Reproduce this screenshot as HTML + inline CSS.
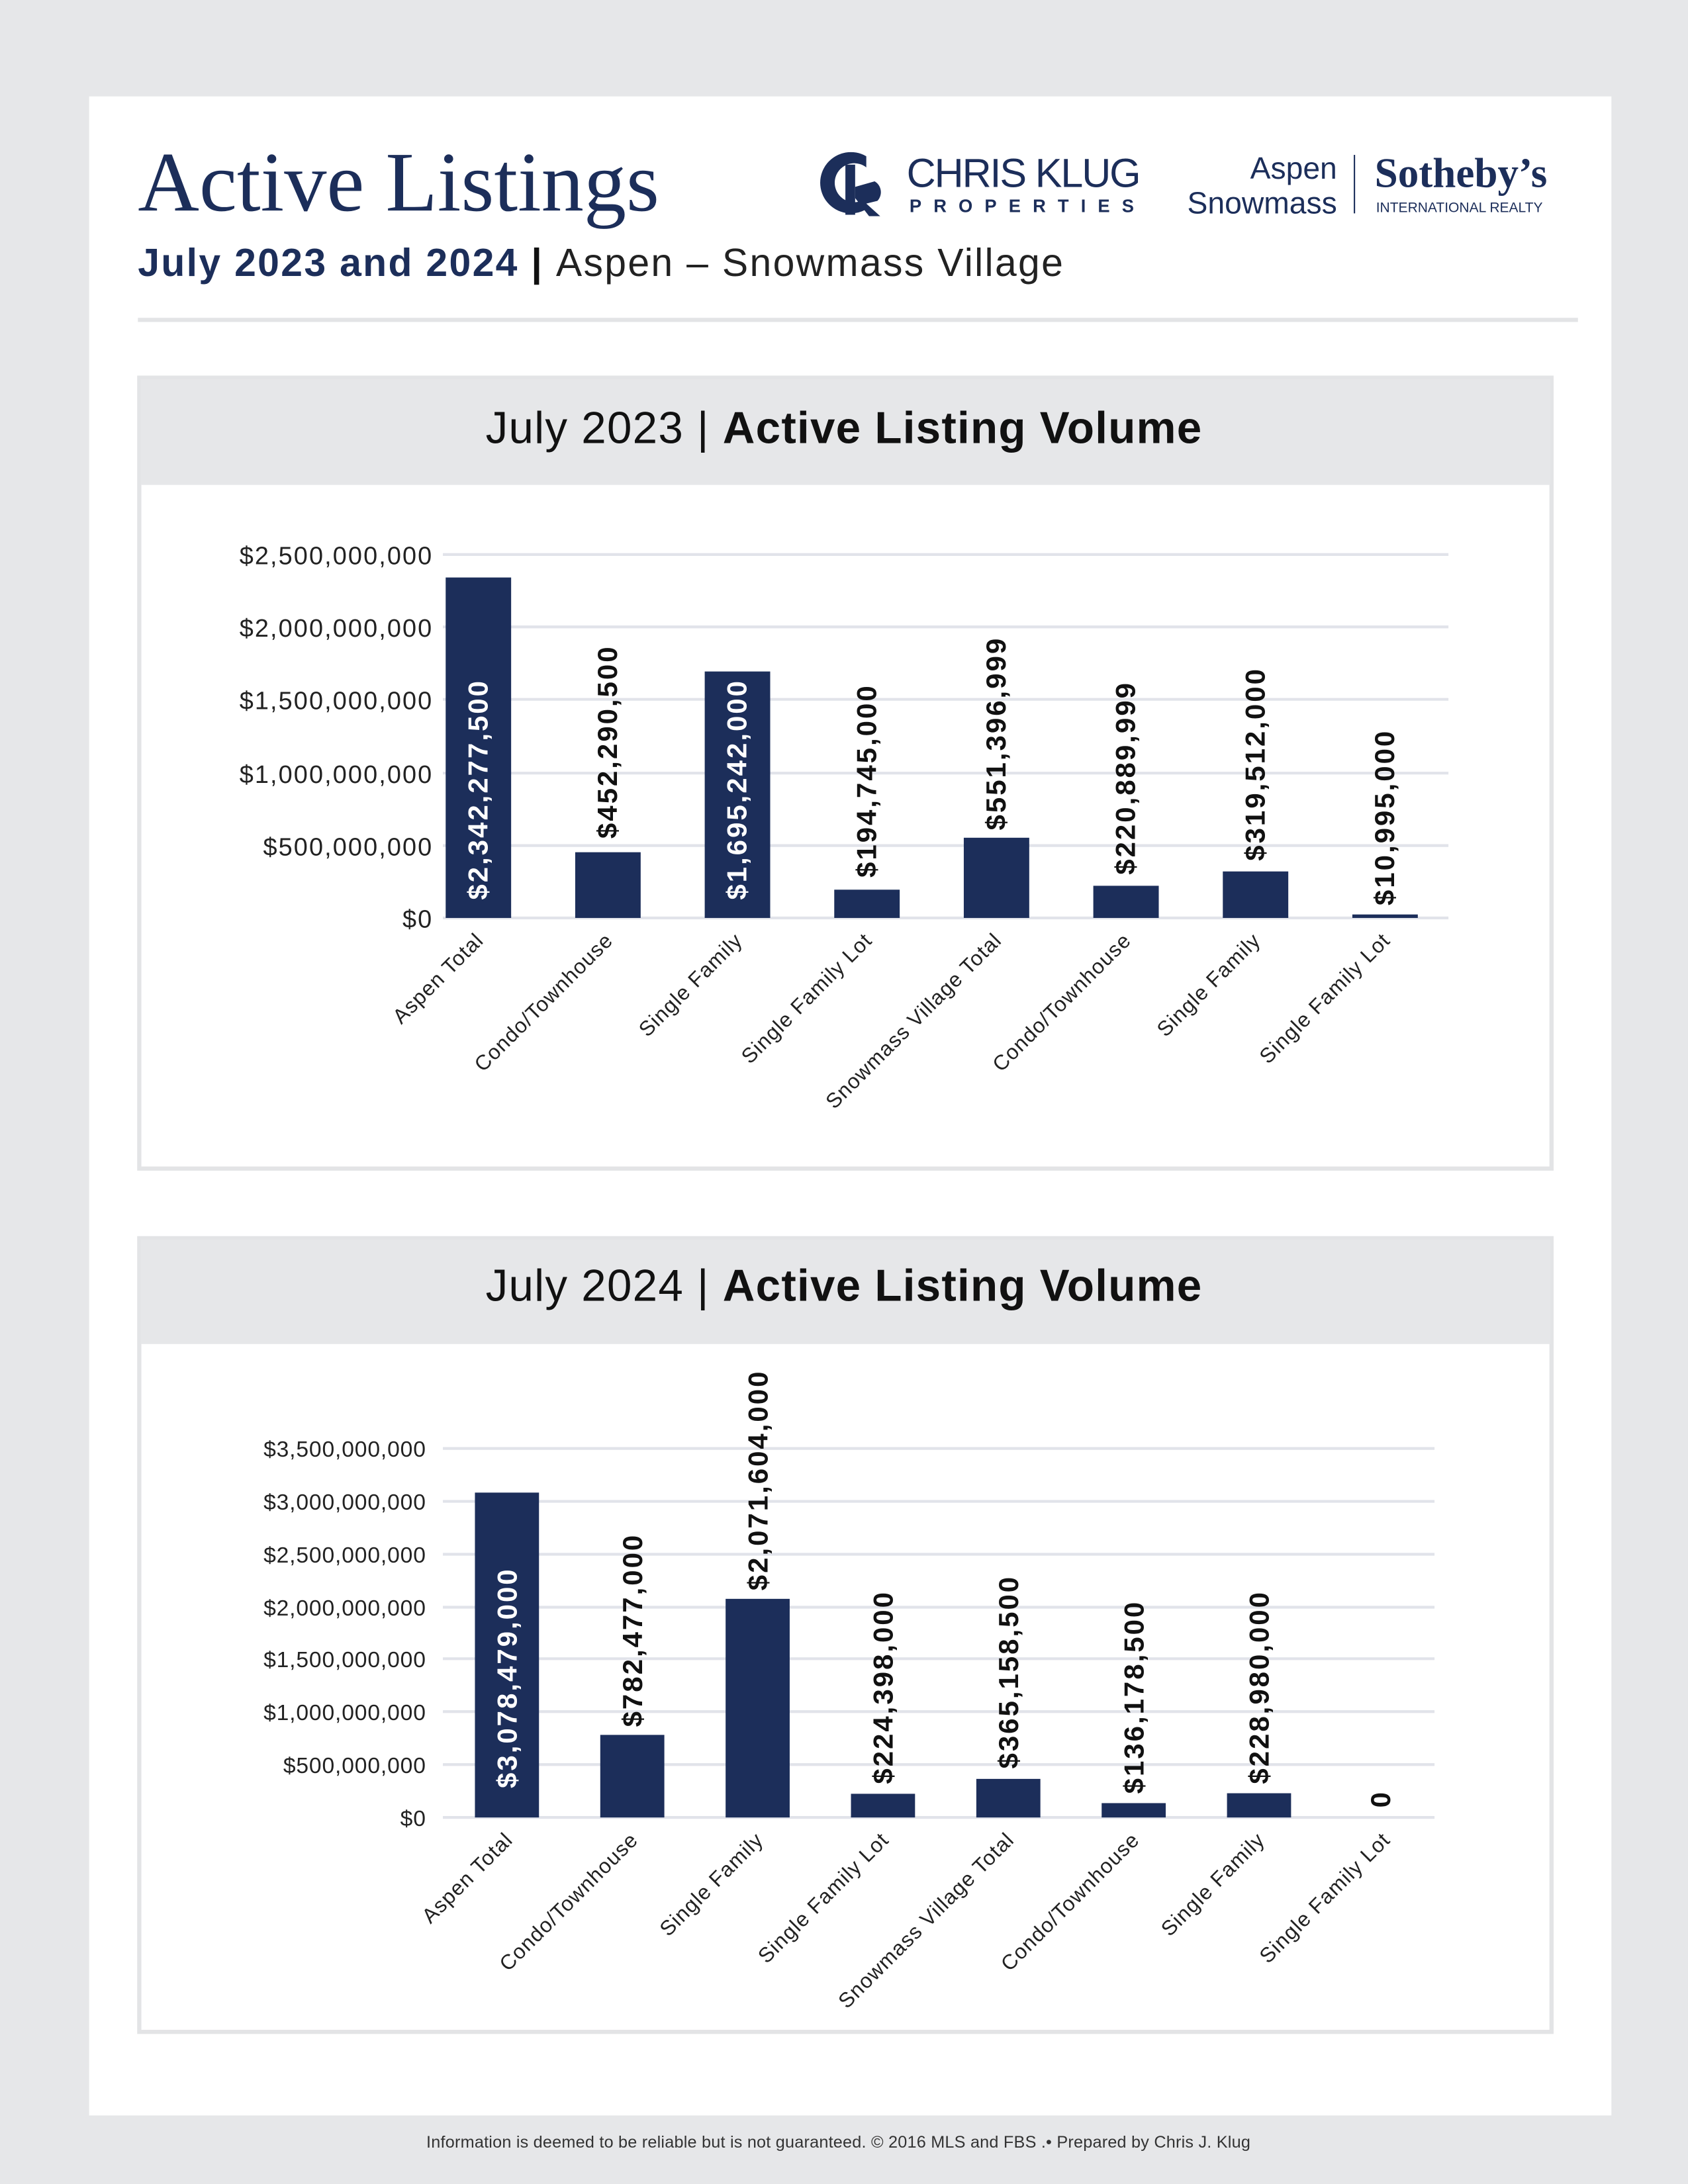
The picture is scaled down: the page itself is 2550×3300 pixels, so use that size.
<!DOCTYPE html>
<html><head><meta charset="utf-8">
<style>
html,body{margin:0;padding:0;background:#e6e7e9;}
svg{display:block;}
</style></head>
<body>
<svg width="2550" height="3300" viewBox="0 0 1212 1568" xmlns="http://www.w3.org/2000/svg" font-family="Liberation Sans, sans-serif">
<rect x="0" y="0" width="1212" height="1568" fill="#e6e7e9"/>
<rect x="64" y="69" width="1093" height="1450" fill="#ffffff"/>

<!-- Header -->
<text x="99" y="151" font-family="Liberation Serif, serif" font-size="61" fill="#1c2e5a">Active Listings</text>
<text x="99" y="198" font-size="28" letter-spacing="1.1" fill="#1c2e5a"><tspan font-weight="bold">July 2023 and 2024</tspan><tspan font-weight="bold" fill="#111"> | </tspan><tspan fill="#222">Aspen – Snowmass Village</tspan></text>
<rect x="99" y="228" width="1034" height="3" fill="#e3e4e6"/>

<!-- Chris Klug logo -->
<g fill="#1c2e5a">
<path d="M622 112 A22 22 0 1 0 622 150 L622 142 A14 14 0 1 1 622 120 Z"/>
<rect x="607" y="118" width="7" height="36"/>
<path d="M614 134 L628 130 A9 9 0 0 1 630 144 L622 146 L632 155 L624 155 L614 142 Z"/>
</g>
<text x="651" y="134" font-size="29" fill="#1c2e5a" letter-spacing="-1">CHRIS KLUG</text>
<text x="653" y="152" font-size="13" font-weight="bold" fill="#1c2e5a" letter-spacing="8.6">PROPERTIES</text>
<!-- Sotheby's -->
<text x="960" y="128" font-size="22" fill="#1c2e5a" text-anchor="end">Aspen</text>
<text x="960" y="153" font-size="22" fill="#1c2e5a" text-anchor="end">Snowmass</text>
<rect x="972" y="111" width="1" height="42" fill="#1c2e5a"/>
<text x="987" y="134" font-family="Liberation Serif, serif" font-weight="bold" font-size="30" fill="#1c2e5a">Sotheby’s</text>
<text x="988" y="152" font-size="10" fill="#1c2e5a">INTERNATIONAL REALTY</text>

<!-- Chart 1 panel -->
<rect x="100" y="271" width="1014" height="568" fill="#fff" stroke="#e3e4e6" stroke-width="3"/>
<rect x="101" y="272" width="1012" height="76" fill="#e6e7e9"/>
<text x="606" y="318" font-size="32" letter-spacing="0.6" text-anchor="middle" fill="#111">July 2023 | <tspan font-weight="bold">Active Listing Volume</tspan></text>
<g stroke="#e1e3ea" stroke-width="2">
<line x1="318" x2="1040" y1="398" y2="398"/><line x1="318" x2="1040" y1="450" y2="450"/>
<line x1="318" x2="1040" y1="502" y2="502"/><line x1="318" x2="1040" y1="555" y2="555"/>
<line x1="318" x2="1040" y1="607" y2="607"/><line x1="318" x2="1040" y1="659" y2="659"/>
</g>
<g font-size="18" letter-spacing="1" fill="#222" text-anchor="end">
<text x="311" y="405">$2,500,000,000</text><text x="311" y="457">$2,000,000,000</text>
<text x="311" y="509">$1,500,000,000</text><text x="311" y="562">$1,000,000,000</text>
<text x="311" y="614">$500,000,000</text><text x="311" y="666">$0</text>
</g>
<g fill="#1c2e5a">
<rect x="320" y="414.5" width="47" height="244.5"/>
<rect x="413" y="611.8" width="47" height="47.2"/>
<rect x="506" y="482" width="47" height="177"/>
<rect x="599" y="638.7" width="47" height="20.3"/>
<rect x="692" y="601.4" width="47" height="57.6"/>
<rect x="785" y="635.9" width="47" height="23.1"/>
<rect x="878" y="625.6" width="47" height="33.4"/>
<rect x="971" y="656.5" width="47" height="2.5"/>
</g>
<g font-size="20" font-weight="bold" letter-spacing="1.4">
<text transform="translate(350,646) rotate(-90)" fill="#fff">$2,342,277,500</text>
<text transform="translate(443,602) rotate(-90)" fill="#111">$452,290,500</text>
<text transform="translate(536,646) rotate(-90)" fill="#fff">$1,695,242,000</text>
<text transform="translate(629,630) rotate(-90)" fill="#111">$194,745,000</text>
<text transform="translate(722,596) rotate(-90)" fill="#111">$551,396,999</text>
<text transform="translate(815,628) rotate(-90)" fill="#111">$220,889,999</text>
<text transform="translate(908,618) rotate(-90)" fill="#111">$319,512,000</text>
<text transform="translate(1001,650) rotate(-90)" fill="#111">$10,995,000</text>
</g>
<g font-size="15" letter-spacing="0.6" fill="#222" text-anchor="end">
<text transform="translate(348,676) rotate(-45)">Aspen Total</text>
<text transform="translate(441,676) rotate(-45)">Condo/Townhouse</text>
<text transform="translate(534,676) rotate(-45)">Single Family</text>
<text transform="translate(627,676) rotate(-45)">Single Family Lot</text>
<text transform="translate(720,676) rotate(-45)">Snowmass Village Total</text>
<text transform="translate(813,676) rotate(-45)">Condo/Townhouse</text>
<text transform="translate(906,676) rotate(-45)">Single Family</text>
<text transform="translate(999,676) rotate(-45)">Single Family Lot</text>
</g>

<!-- Chart 2 panel -->
<rect x="100" y="889" width="1014" height="570" fill="#fff" stroke="#e3e4e6" stroke-width="3"/>
<rect x="101" y="890" width="1012" height="75" fill="#e6e7e9"/>
<text x="606" y="934" font-size="32" letter-spacing="0.6" text-anchor="middle" fill="#111">July 2024 | <tspan font-weight="bold">Active Listing Volume</tspan></text>
<g stroke="#e1e3ea" stroke-width="2">
<line x1="318" x2="1030" y1="1040" y2="1040"/><line x1="318" x2="1030" y1="1078" y2="1078"/>
<line x1="318" x2="1030" y1="1116" y2="1116"/><line x1="318" x2="1030" y1="1154" y2="1154"/>
<line x1="318" x2="1030" y1="1191" y2="1191"/><line x1="318" x2="1030" y1="1229" y2="1229"/>
<line x1="318" x2="1030" y1="1267" y2="1267"/><line x1="318" x2="1030" y1="1305" y2="1305"/>
</g>
<g font-size="16" letter-spacing="0.4" fill="#222" text-anchor="end">
<text x="306" y="1046">$3,500,000,000</text><text x="306" y="1084">$3,000,000,000</text>
<text x="306" y="1122">$2,500,000,000</text><text x="306" y="1160">$2,000,000,000</text>
<text x="306" y="1197">$1,500,000,000</text><text x="306" y="1235">$1,000,000,000</text>
<text x="306" y="1273">$500,000,000</text><text x="306" y="1311">$0</text>
</g>
<g fill="#1c2e5a">
<rect x="341" y="1071.7" width="46" height="233.3"/>
<rect x="431" y="1245.7" width="46" height="59.3"/>
<rect x="521" y="1148" width="46" height="157"/>
<rect x="611" y="1288" width="46" height="17"/>
<rect x="701" y="1277.3" width="46" height="27.7"/>
<rect x="791" y="1294.7" width="46" height="10.3"/>
<rect x="881" y="1287.6" width="46" height="17.4"/>
</g>
<g font-size="20" font-weight="bold" letter-spacing="1.4">
<text transform="translate(371,1284) rotate(-90)" fill="#fff">$3,078,479,000</text>
<text transform="translate(461,1240) rotate(-90)" fill="#111">$782,477,000</text>
<text transform="translate(551,1142) rotate(-90)" fill="#111">$2,071,604,000</text>
<text transform="translate(641,1281) rotate(-90)" fill="#111">$224,398,000</text>
<text transform="translate(731,1270) rotate(-90)" fill="#111">$365,158,500</text>
<text transform="translate(821,1288) rotate(-90)" fill="#111">$136,178,500</text>
<text transform="translate(911,1281) rotate(-90)" fill="#111">$228,980,000</text>
<text transform="translate(998,1298) rotate(-90)" fill="#111">0</text>
</g>
<g font-size="15" letter-spacing="0.6" fill="#222" text-anchor="end">
<text transform="translate(369,1322) rotate(-45)">Aspen Total</text>
<text transform="translate(459,1322) rotate(-45)">Condo/Townhouse</text>
<text transform="translate(549,1322) rotate(-45)">Single Family</text>
<text transform="translate(639,1322) rotate(-45)">Single Family Lot</text>
<text transform="translate(729,1322) rotate(-45)">Snowmass Village Total</text>
<text transform="translate(819,1322) rotate(-45)">Condo/Townhouse</text>
<text transform="translate(909,1322) rotate(-45)">Single Family</text>
<text transform="translate(999,1322) rotate(-45)">Single Family Lot</text>
</g>

<!-- Footer -->
<text x="602" y="1542" font-size="12" fill="#333" text-anchor="middle" letter-spacing="0.1">Information is deemed to be reliable but is not guaranteed. © 2016 MLS and FBS .• Prepared by Chris J. Klug</text>
</svg>
</body></html>
